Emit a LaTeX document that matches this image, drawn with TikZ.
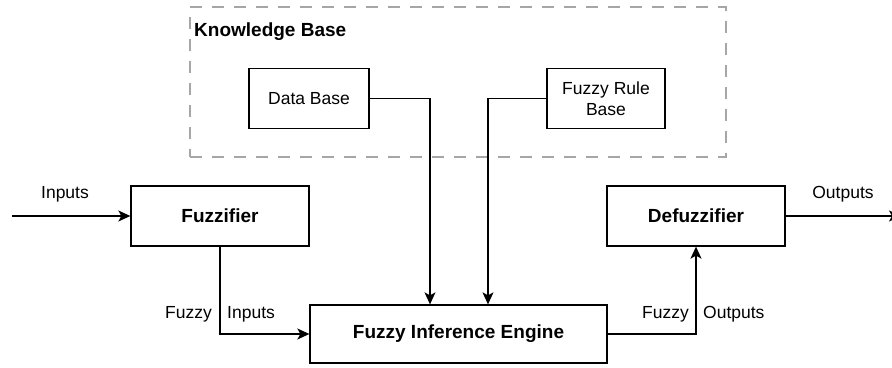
\documentclass[tikz,border=0pt]{standalone}
\usepackage{fontspec}
\setmainfont{Liberation Sans}
\usetikzlibrary{arrows.meta}
\definecolor{kbgray}{HTML}{A6A6A6}
\tikzset{
  box/.style={draw=black, line width=1.3pt, fill=white, inner sep=0pt, align=center,
    font=\fontsize{17.5}{21.5}\selectfont},
  boldbox/.style={box, font=\fontsize{19}{22}\selectfont\bfseries},
  lbl/.style={inner sep=0pt, font=\fontsize{17.5}{21}\selectfont},
  arr/.style={line width=1.3pt, -{Stealth[length=12pt,width=11pt,inset=3pt]}},
  kbbox/.style={draw=kbgray, line width=1.3pt, dash pattern=on 12pt off 10pt, inner sep=0pt}
}
\begin{document}
\begin{tikzpicture}[x=1pt,y=-1pt]
\useasboundingbox (0,0) rectangle (892,367);
\node[kbbox, minimum width=536pt, minimum height=150pt] (kb) at (458,82) {};
\node[lbl, anchor=west, font=\fontsize{19}{22}\selectfont\bfseries] (kbt) at (194,32) {Knowledge Base};
\node[box, minimum width=120pt, minimum height=60pt] (db) at (309,98.5) {Data Base};
\node[box, minimum width=118pt, minimum height=60pt] (rule) at (606,98.5) {Fuzzy Rule\\Base};
\node[boldbox, minimum width=178pt, minimum height=60pt] (fuzz) at (220,216) {Fuzzifier};
\node[boldbox, minimum width=178pt, minimum height=60pt] (defuzz) at (696,216) {Defuzzifier};
\node[boldbox, minimum width=297pt, minimum height=58pt] (engine) at (458.5,334) {Fuzzy Inference Engine};
\coordinate (in) at (12,216);
\coordinate (out) at (901,216);
\draw[arr] (in) -- (fuzz.west);
\draw[arr] (defuzz.east) -- (out);
\draw[arr] (db.east) -| ([xshift=-28.5pt]engine.north);
\draw[arr] (rule.west) -| ([xshift=29.5pt]engine.north);
\draw[arr] (fuzz.south) |- (engine.west);
\draw[arr] (engine.east) -| (defuzz.south);
\node[lbl] (inlbl) at (65,194) {Inputs};
\node[lbl] (outlbl) at (843,194) {Outputs};
\node[lbl, anchor=east] (fz1) at (212,314) {Fuzzy};
\node[lbl, anchor=west] (fin) at (227,314) {Inputs};
\node[lbl, anchor=east] (fz2) at (689,314) {Fuzzy};
\node[lbl, anchor=west] (fout) at (703,314) {Outputs};
\end{tikzpicture}
\end{document}
